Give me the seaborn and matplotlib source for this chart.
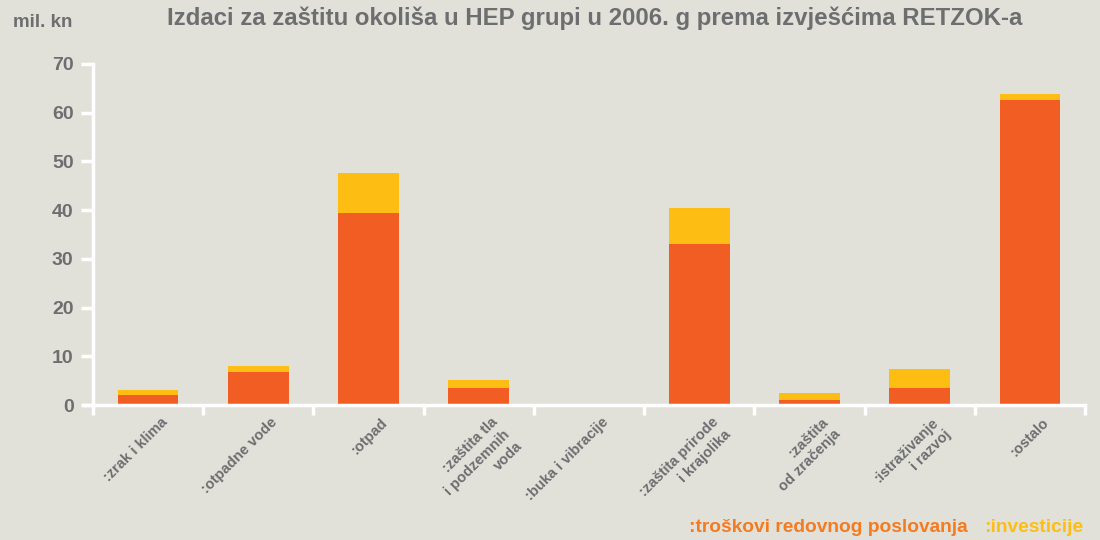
import numpy as np
import pandas as pd
import matplotlib
matplotlib.use("Agg")
import matplotlib.pyplot as plt
import matplotlib.ticker as mticker
import matplotlib.transforms as mtransforms
import seaborn as sns

# podaci (mil. kn), očitano s grafa
kategorije = [":zrak i klima", ":otpadne vode", ":otpad",
              ":zaštita tla\ni podzemnih\nvoda", ":buka i vibracije",
              ":zaštita prirode\ni krajolika", ":zaštita\nod zračenja",
              ":istraživanje\ni razvoj", ":ostalo"]
troskovi = [2.0, 6.8, 39.4, 3.5, 0.0, 33.1, 1.0, 3.5, 62.6]
investicije = [1.1, 1.2, 8.2, 1.6, 0.0, 7.4, 1.5, 3.9, 1.3]
y_ticks = [0, 10, 20, 30, 40, 50, 60, 70]

BG = "#E2E1D9"
NARANCASTA = "#F15D22"
ZUTA = "#FDBD13"
SIVA = "#6D6E70"

df = pd.DataFrame({"kat": kategorije, "troskovi": troskovi,
                   "investicije": investicije})
df["ukupno"] = df["troskovi"] + df["investicije"]

sns.set_theme(style="white")
plt.rcParams["font.family"] = ["Liberation Sans", "DejaVu Sans"]

fig = plt.figure(figsize=(11, 5.4), dpi=100, facecolor=BG)
ax = fig.add_axes([0.0845, 0.25, 0.902, 0.6315])
ax.set_facecolor(BG)

# stupci: ukupno (žuto) pa troškovi (narančasto) preko
sns.barplot(data=df, x="kat", y="ukupno", color=ZUTA, width=0.55,
            saturation=1, ax=ax, linewidth=0)
sns.barplot(data=df, x="kat", y="troskovi", color=NARANCASTA, width=0.55,
            saturation=1, ax=ax, linewidth=0)

ax.set_xlim(-0.5, len(kategorije) - 0.5)
ax.set_ylim(0, 70)
ax.set_yticks(y_ticks)
ax.set_xlabel("")
ax.set_ylabel("")

for s in ["top", "right"]:
    ax.spines[s].set_visible(False)
for s in ["left", "bottom"]:
    ax.spines[s].set_color("white")
    ax.spines[s].set_linewidth(2.5)
    ax.spines[s].set_capstyle("projecting")
ax.spines["bottom"].set_bounds(-0.58, len(kategorije) - 0.5)

ax.tick_params(axis="y", left=True, colors="white", length=9, width=2.5, pad=5)
for t in ax.get_yticklabels():
    t.set_color(SIVA)
    t.set_fontweight("bold")
    t.set_fontsize(14)

ax.xaxis.set_minor_locator(mticker.FixedLocator(np.arange(-0.5, len(kategorije), 1.0)))
ax.tick_params(axis="x", which="minor", bottom=True, colors="white", length=7.5, width=2.5)
ax.tick_params(axis="x", which="major", bottom=False, length=0, pad=0)
ax.set_xticks(range(len(kategorije)))
ax.set_xticklabels(kategorije, rotation=45, ha="right", va="top",
                   rotation_mode="anchor", multialignment="right",
                   linespacing=1.3, fontsize=10.5, fontweight="bold", color=SIVA)
pomak = mtransforms.ScaledTranslation(0.12, -0.10, fig.dpi_scale_trans)
for t in ax.get_xticklabels():
    t.set_transform(t.get_transform() + pomak)

fig.text(0.541, 0.966, "Izdaci za zaštitu okoliša u HEP grupi u 2006. g prema izvješćima RETZOK-a",
         ha="center", va="center", fontsize=17.3, fontweight="bold", color=SIVA)
fig.text(0.012, 0.958, "mil. kn", ha="left", va="center", fontsize=13.5,
         fontweight="bold", color=SIVA)

fig.text(0.88, 0.024, ":troškovi redovnog poslovanja", ha="right", va="center",
         fontsize=13.8, fontweight="bold", color="#F47B20")
fig.text(0.895, 0.024, ":investicije", ha="left", va="center",
         fontsize=13.8, fontweight="bold", color=ZUTA)

fig.savefig("out.png", dpi=100, facecolor=BG)
